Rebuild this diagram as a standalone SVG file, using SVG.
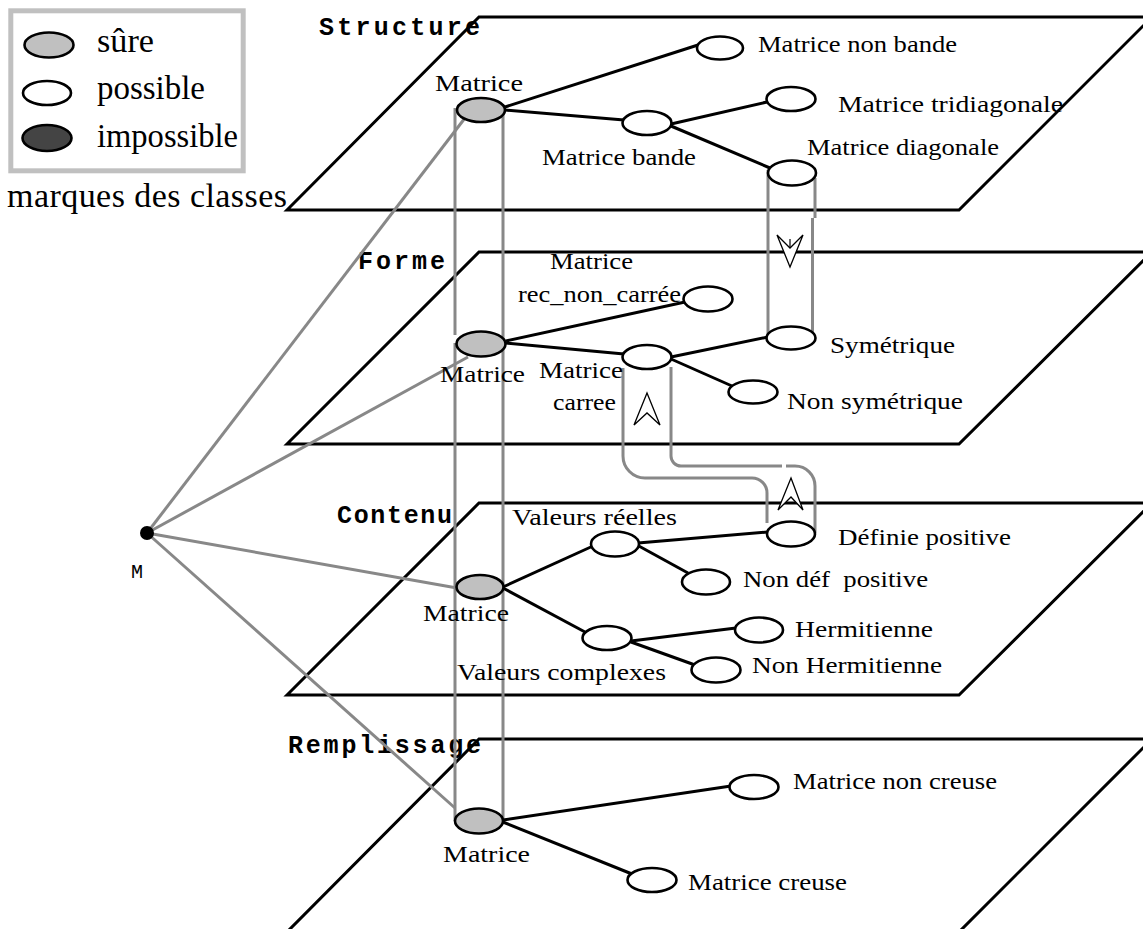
<svg xmlns="http://www.w3.org/2000/svg" width="1143" height="929" viewBox="0 0 1143 929">
<style>
.plane{fill:none;stroke:#000;stroke-width:3}
.gl{fill:none;stroke:#888;stroke-width:3}
.cyl{fill:none;stroke:#888;stroke-width:3}
.edge{stroke:#000;stroke-width:3;fill:none}
.nd{stroke:#000;stroke-width:2.6}
.sure{fill:#c0c0c0}
.poss{fill:#fff}
.imp{fill:#444}
.t{font-family:"Liberation Serif","Times New Roman",serif;font-size:23.5px;fill:#000}
.lg{font-family:"Liberation Serif","Times New Roman",serif;font-size:33px;fill:#000}
.pl{font-family:"Liberation Mono","Courier New",monospace;font-weight:bold;font-size:25px;fill:#000}
.arr{fill:#fff;stroke:#000;stroke-width:1.3;stroke-linejoin:miter}
</style>

<g id="planes">
<polygon class="plane" points="287,210 479,17 1152,17 959,210"/>
<polygon class="plane" points="287,444 479,252 1152,252 959,444"/>
<polygon class="plane" points="287,695 479,503 1152,503 959,695"/>
<polygon class="plane" points="287,932 479,739 1152,739 959,932"/>
<text class="pl" x="319" y="35" textLength="161" lengthAdjust="spacing">Structure</text>
<text class="pl" x="358" y="269" textLength="87" lengthAdjust="spacing">Forme</text>
<text class="pl" x="337" y="523" textLength="115" lengthAdjust="spacing">Contenu</text>
<text class="pl" x="288" y="753" textLength="193" lengthAdjust="spacing">Remplissage</text>
</g>

<g id="legend">
<rect x="10.8" y="10.8" width="232.4" height="160" fill="#fff" stroke="#c0c0c0" stroke-width="5"/>
<ellipse class="nd sure" cx="49" cy="45" rx="24.5" ry="12.5"/>
<ellipse class="nd poss" cx="47" cy="93" rx="24" ry="12"/>
<ellipse class="nd imp" cx="47" cy="138" rx="24.5" ry="13"/>
<text class="lg" x="97" y="52" textLength="57" lengthAdjust="spacingAndGlyphs">sûre</text>
<text class="lg" x="97" y="99" textLength="108" lengthAdjust="spacingAndGlyphs">possible</text>
<text class="lg" x="97" y="147" textLength="141" lengthAdjust="spacingAndGlyphs">impossible</text>
<text class="lg" x="7" y="207" textLength="280" lengthAdjust="spacing" style="font-size:34px">marques des classes</text>
</g>

<g id="connectors">
<line class="gl" x1="147" y1="533" x2="465" y2="118"/>
<line class="gl" x1="147" y1="533" x2="468" y2="357"/>
<line class="gl" x1="147" y1="533" x2="457" y2="588"/>
<line class="gl" x1="147" y1="533" x2="455" y2="808"/>
<line class="gl" x1="455" y1="108" x2="455" y2="335"/>
<line class="gl" x1="455" y1="343" x2="455" y2="821"/>
<line class="gl" x1="503" y1="108" x2="503" y2="821"/>
<line class="cyl" x1="768" y1="170" x2="768" y2="338"/>
<path class="cyl" d="M815,178 V218 M812.5,218 V336"/>
<path class="cyl" d="M623,368 V456 A22,22 0 0 0 645,478 H752 A15,15 0 0 1 767,493 V523"/>
<path class="cyl" d="M671,367 V456 A10,10 0 0 0 681,466 H782 M786,466 H795 A20,20 0 0 1 815,486 V533"/>
<polygon class="arr" points="777,235 790,267 803,235 790,248"/>
<line x1="790" y1="239" x2="790" y2="248" stroke="#000" stroke-width="1.2"/>
<polygon class="arr" points="647,393 660,425 647,413 634,425"/>
<polygon class="arr" points="791,478 803,510 791,497 778,510"/>
<line class="edge" x1="505" y1="107" x2="698" y2="45"/>
<line class="edge" x1="505" y1="110" x2="624" y2="120"/>
<line class="edge" x1="671" y1="124" x2="767" y2="102"/>
<line class="edge" x1="671" y1="126" x2="770" y2="168"/>
<line class="edge" x1="506" y1="341" x2="685" y2="302"/>
<line class="edge" x1="506" y1="343" x2="624" y2="354"/>
<line class="edge" x1="671" y1="357" x2="768" y2="337"/>
<line class="edge" x1="671" y1="359" x2="732" y2="386"/>
<line class="edge" x1="503" y1="587" x2="593" y2="546"/>
<line class="edge" x1="503" y1="588" x2="585" y2="632"/>
<line class="edge" x1="638" y1="543" x2="768" y2="532"/>
<line class="edge" x1="637" y1="545" x2="688" y2="573"/>
<line class="edge" x1="631" y1="641" x2="736" y2="628"/>
<line class="edge" x1="631" y1="642" x2="695" y2="665"/>
<line class="edge" x1="503" y1="820" x2="731" y2="786"/>
<line class="edge" x1="503" y1="822" x2="632" y2="874"/>
<circle cx="147" cy="533" r="7" fill="#000"/>
<text x="131" y="578" style="font-family:'Liberation Mono','Courier New',monospace;font-size:20px" fill="#000">M</text>
</g>

<g id="n-structure-matrice"><ellipse class="nd sure" cx="481" cy="110" rx="24" ry="12"/><text class="t" x="435" y="91" textLength="88" lengthAdjust="spacingAndGlyphs">Matrice</text></g>
<g id="n-non-bande"><ellipse class="nd poss" cx="720" cy="48" rx="23" ry="11.5"/><text class="t" x="758" y="52" textLength="199" lengthAdjust="spacingAndGlyphs">Matrice non bande</text></g>
<g id="n-bande"><ellipse class="nd poss" cx="647" cy="123" rx="24.5" ry="12"/><text class="t" x="542" y="165" textLength="154" lengthAdjust="spacingAndGlyphs">Matrice bande</text></g>
<g id="n-tridiagonale"><ellipse class="nd poss" cx="791" cy="99" rx="24.5" ry="12"/><text class="t" x="838" y="112" textLength="225" lengthAdjust="spacingAndGlyphs">Matrice tridiagonale</text></g>
<g id="n-diagonale"><ellipse class="nd poss" cx="792" cy="173" rx="24" ry="12.5"/><text class="t" x="807" y="155" textLength="192" lengthAdjust="spacingAndGlyphs">Matrice diagonale</text></g>

<g id="n-forme-matrice"><ellipse class="nd sure" cx="481" cy="344" rx="24.5" ry="12.5"/><text class="t" x="440" y="382" textLength="85" lengthAdjust="spacingAndGlyphs">Matrice</text></g>
<g id="n-rec"><ellipse class="nd poss" cx="708" cy="299" rx="24.5" ry="12.5"/><text class="t" x="550" y="269" textLength="83" lengthAdjust="spacingAndGlyphs">Matrice</text><text class="t" x="518" y="302" textLength="163" lengthAdjust="spacingAndGlyphs">rec_non_carrée</text></g>
<g id="n-carree"><ellipse class="nd poss" cx="647" cy="357" rx="24.5" ry="12"/><text class="t" x="539" y="378" textLength="84" lengthAdjust="spacingAndGlyphs">Matrice</text><text class="t" x="553" y="410" textLength="63" lengthAdjust="spacingAndGlyphs">carree</text></g>
<g id="n-symetrique"><ellipse class="nd poss" cx="791" cy="338" rx="24.5" ry="11.5"/><text class="t" x="830" y="353" textLength="125" lengthAdjust="spacingAndGlyphs">Symétrique</text></g>
<g id="n-non-symetrique"><ellipse class="nd poss" cx="753" cy="392" rx="24.5" ry="11.5"/><text class="t" x="787" y="409" textLength="176" lengthAdjust="spacingAndGlyphs">Non symétrique</text></g>

<g id="n-contenu-matrice"><ellipse class="nd sure" cx="480" cy="587" rx="23.5" ry="12"/><text class="t" x="423" y="621" textLength="86" lengthAdjust="spacingAndGlyphs">Matrice</text></g>
<g id="n-reelles"><ellipse class="nd poss" cx="615" cy="544" rx="24" ry="12.5"/><text class="t" x="512" y="525" textLength="165" lengthAdjust="spacingAndGlyphs">Valeurs réelles</text></g>
<g id="n-definie"><ellipse class="nd poss" cx="791" cy="534" rx="24" ry="12.5"/><text class="t" x="838" y="545" textLength="173" lengthAdjust="spacingAndGlyphs">Définie positive</text></g>
<g id="n-non-def"><ellipse class="nd poss" cx="706" cy="582" rx="24" ry="12.5"/><text class="t" x="743" y="587" textLength="185" lengthAdjust="spacingAndGlyphs">Non déf&#160; positive</text></g>
<g id="n-complexes"><ellipse class="nd poss" cx="607" cy="638" rx="24.5" ry="12"/><text class="t" x="457" y="680" textLength="209" lengthAdjust="spacingAndGlyphs">Valeurs complexes</text></g>
<g id="n-hermitienne"><ellipse class="nd poss" cx="759" cy="630" rx="24" ry="12.5"/><text class="t" x="795" y="637" textLength="138" lengthAdjust="spacingAndGlyphs">Hermitienne</text></g>
<g id="n-non-hermitienne"><ellipse class="nd poss" cx="716" cy="670" rx="24.5" ry="12.5"/><text class="t" x="752" y="673" textLength="190" lengthAdjust="spacingAndGlyphs">Non Hermitienne</text></g>

<g id="n-remplissage-matrice"><ellipse class="nd sure" cx="479" cy="821" rx="24" ry="12.5"/><text class="t" x="443" y="862" textLength="87" lengthAdjust="spacingAndGlyphs">Matrice</text></g>
<g id="n-non-creuse"><ellipse class="nd poss" cx="754" cy="787" rx="24.5" ry="12"/><text class="t" x="793" y="789" textLength="204" lengthAdjust="spacingAndGlyphs">Matrice non creuse</text></g>
<g id="n-creuse"><ellipse class="nd poss" cx="652" cy="880" rx="24.5" ry="12"/><text class="t" x="688" y="890" textLength="159" lengthAdjust="spacingAndGlyphs">Matrice creuse</text></g>
</svg>
